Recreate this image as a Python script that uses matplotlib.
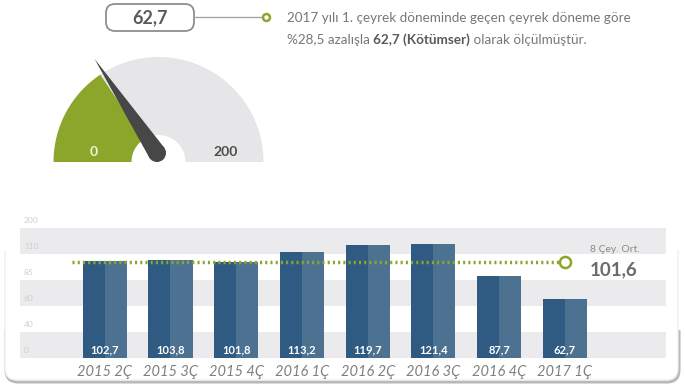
import numpy as np
import matplotlib.pyplot as plt
from matplotlib.patches import Wedge, Polygon, Circle, FancyBboxPatch, Rectangle

plt.rcParams['font.family'] = ['Lato', 'DejaVu Sans']

# data
quarters = ['2015 2Ç', '2015 3Ç', '2015 4Ç', '2016 1Ç', '2016 2Ç', '2016 3Ç', '2016 4Ç', '2017 1Ç']
values = [102.7, 103.8, 101.8, 113.2, 119.7, 121.4, 87.7, 62.7]
value_labels = ['102,7', '103,8', '101,8', '113,2', '119,7', '121,4', '87,7', '62,7']
avg_value = 101.6
avg_label = '101,6'
band_labels = ['0', '40', '60', '85', '110', '200']
gauge_value = 62.7
gauge_max = 200
gauge_label = '62,7'

GREEN = '#8ca62c'
DARK_BAR = '#2f5b82'
LIGHT_BAR = '#4d7191'
TEXT_GRAY = '#777777'

fig = plt.figure(figsize=(6.85, 3.89), dpi=100)

# background axes in pixel coordinates
bg = fig.add_axes([0, 0, 1, 1])
bg.set_xlim(0, 685)
bg.set_ylim(389, 0)
bg.axis('off')

# chart frame: only the lower part of the outline/shadow shows
shadow = FancyBboxPatch((6, 196), 673, 186, boxstyle='round,pad=0,rounding_size=12',
                        facecolor='none', edgecolor='#b8b8b8', lw=2.2)
bg.add_patch(shadow)
shadow.set_clip_path(Rectangle((0, 330), 685, 59, transform=bg.transData))
edge = FancyBboxPatch((5, 194), 673, 186, boxstyle='round,pad=0,rounding_size=12',
                      facecolor='white', edgecolor='#eeeeee', lw=1)
bg.add_patch(edge)
edge.set_clip_path(Rectangle((0, 250), 685, 139, transform=bg.transData))

# gauge
cx, cy = 158.5, 162
r_out, r_in = 105, 27
ang = 180 + 180 * gauge_value / gauge_max
bg.add_patch(Wedge((cx, cy), r_out, 180, ang, width=r_out - r_in, facecolor=GREEN, edgecolor='none'))
bg.add_patch(Wedge((cx, cy), r_out, ang, 360, width=r_out - r_in, facecolor='#e6e6e8', edgecolor='none'))

# needle
px, py = 157, 153
t = np.radians(ang)
tip = (px + 113 * np.cos(t), py + 113 * np.sin(t))
nx, ny = -np.sin(t), np.cos(t)
hw = 9
bg.add_patch(Polygon([(px + hw * nx, py + hw * ny), tip, (px - hw * nx, py - hw * ny)],
                     closed=True, facecolor='#474747', edgecolor='none', zorder=3))
bg.add_patch(Circle((px, py), hw, facecolor='#474747', edgecolor='none', zorder=3))

bg.text(94, 152, '0', color='#eef3dc', fontsize=10, fontweight='bold', ha='center', va='center')
bg.text(226, 152, str(gauge_max), color='#4d4d4d', fontsize=10, fontweight='bold', ha='center', va='center')

# value box
bg.add_patch(FancyBboxPatch((106, 4), 88, 27, boxstyle='round,pad=0,rounding_size=9',
                            facecolor='white', edgecolor='#8f8f8f', lw=1.3))
bg.text(150, 18, gauge_label, color='#5a5a5a', fontsize=13, fontweight='bold', ha='center', va='center')
bg.plot([194, 263], [17, 17], color='#a6a6a6', lw=1)
bg.plot(266, 17, 'o', ms=5, mfc='white', mec=GREEN, mew=1.8)

# description text
fs = 9.7
bg.text(287, 18, '2017 yılı 1. çeyrek döneminde geçen çeyrek döneme göre',
        color=TEXT_GRAY, fontsize=fs, va='center')
p1 = bg.text(287, 40, '%28,5 azalışla ', color=TEXT_GRAY, fontsize=fs, va='center')
p2 = bg.annotate('62,7 (Kötümser)', xy=(1, 0.5), xycoords=p1, va='center',
                 color='#5a5a5a', fontsize=fs, fontweight='bold')
bg.annotate(' olarak ölçülmüştür.', xy=(1, 0.5), xycoords=p2, va='center',
            color=TEXT_GRAY, fontsize=fs)

# bar chart axes
ax = fig.add_axes([20 / 685, 31 / 389, 646 / 685, 130 / 389])
ymax = 138.3
ax.set_ylim(0, ymax)
ax.set_xlim(-1.29, 8.54)
for s in ax.spines.values():
    s.set_visible(False)
ax.set_yticks([])
ax.tick_params(axis='x', length=0, pad=5)

edges = np.linspace(0, ymax, 6)
for i in range(5):
    if i % 2 == 0:
        ax.axhspan(edges[i], edges[i + 1], color='#ebebed', lw=0, zorder=0)
for e, lab in zip(edges, band_labels):
    ax.text(0.006, e + 7.5, lab, transform=ax.get_yaxis_transform(), color='#cfcfcf',
            fontsize=6, ha='left', va='center', clip_on=False)

x = np.arange(len(quarters))
w = 0.335
ax.bar(x - w / 2, values, width=w, color=DARK_BAR, zorder=2)
ax.bar(x + w / 2, values, width=w, color=LIGHT_BAR, zorder=2)
for xi, lab in zip(x, value_labels):
    ax.text(xi, 8.5, lab, color='white', fontsize=8, fontweight='bold', ha='center', va='center', zorder=4)

ax.set_xticks(x)
ax.set_xticklabels(quarters, fontsize=10.5, style='italic', color='#808080')

# average line
ax.plot([-0.5, 7], [avg_value, avg_value], color=GREEN, lw=2.5, ls=(0, (0.6, 0.9)), zorder=3)
ax.plot(7, avg_value, 'o', ms=8, mfc='white', mec=GREEN, mew=1.8, zorder=4)
ax.text(7.38, 115, '8 Çey. Ort.', color='#8a8a8a', fontsize=7.5, ha='left', va='center')
ax.text(7.38, 94, avg_label, color='#6b6b6b', fontsize=13.5, fontweight='bold', ha='left', va='center')

fig.savefig('out.png', dpi=100)
